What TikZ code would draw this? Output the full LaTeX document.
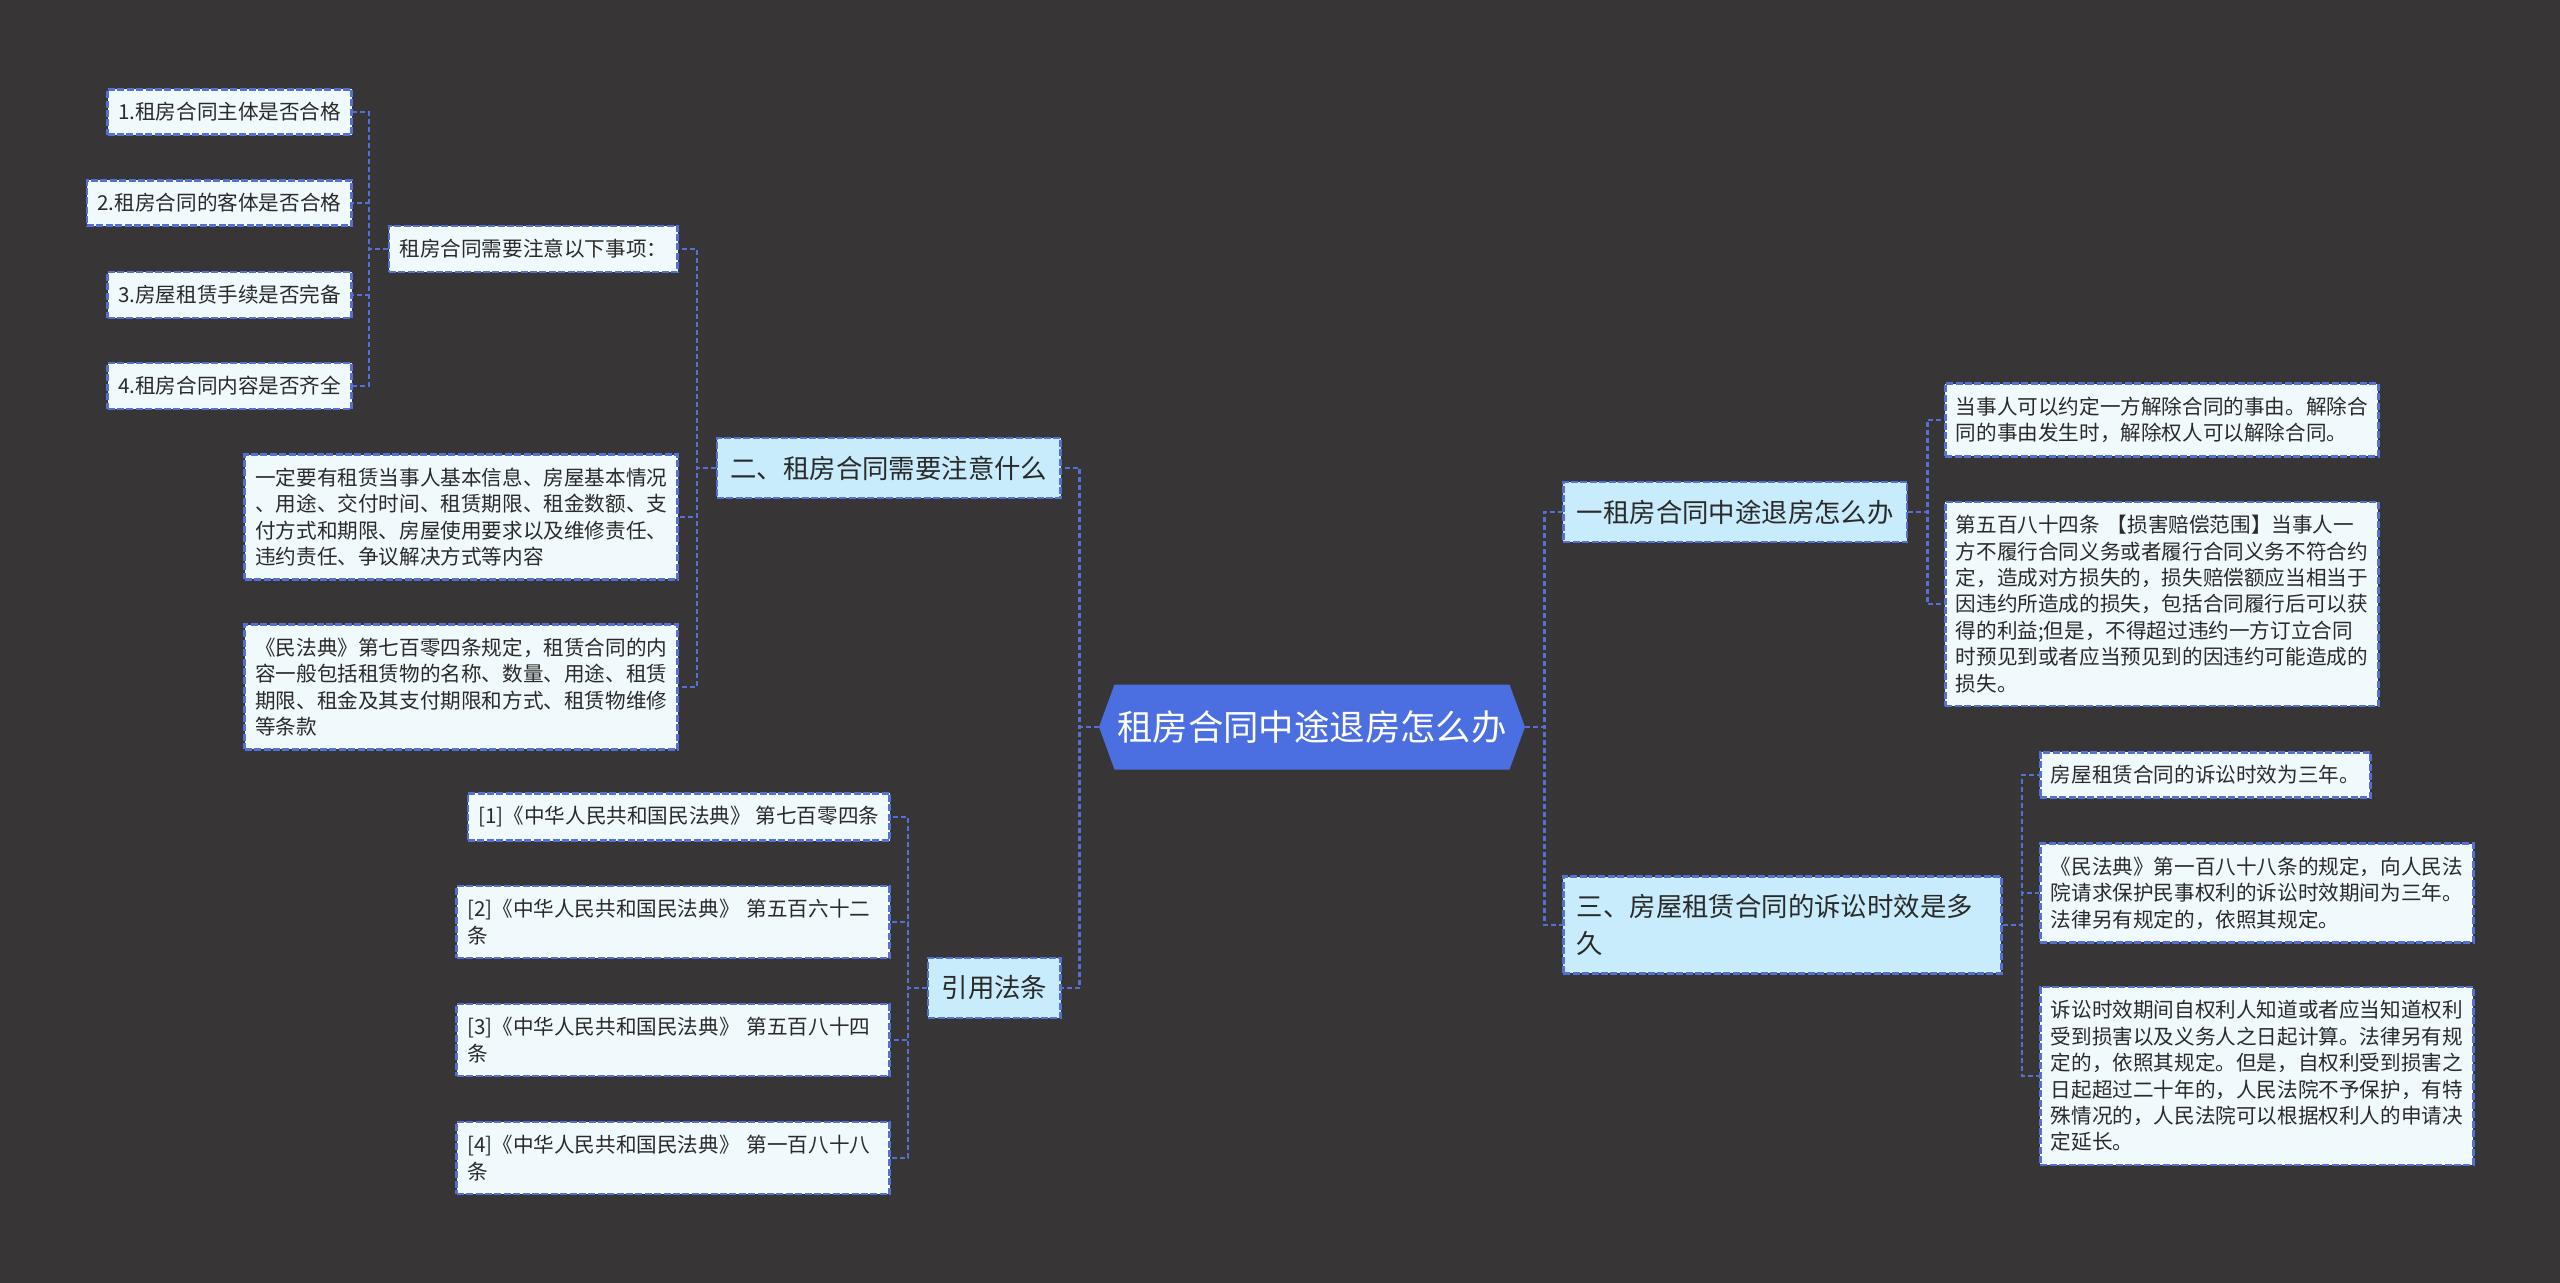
\documentclass[tikz,border=0pt]{standalone}
\usepackage{fontspec}
\setmainfont{Noto Sans CJK SC}
\usetikzlibrary{shapes.symbols}

\definecolor{bgdark}{HTML}{373536}
\definecolor{rootblue}{HTML}{4B6FE0}
\definecolor{linkblue}{HTML}{5470D4}
\definecolor{topicfill}{HTML}{C8ECFC}
\definecolor{leaffill}{HTML}{F0FAFD}
\definecolor{textdark}{HTML}{2A2A2A}

\tikzset{
  link/.style={draw=linkblue, line width=1.1pt, dash pattern=on 2.5pt off 1.5pt},
  box/.style={draw=linkblue, line width=1.3pt, dash pattern=on 3.5pt off 1.2pt, text=textdark, align=left},
  leaf/.style={box, fill=leaffill, font=\fontsize{10.3}{13.2}\selectfont, inner xsep=5.25pt, inner ysep=6.6pt},
  leafwide/.style={leaf, text width=206pt},
  topic/.style={box, fill=topicfill, font=\fontsize{13.2}{18.3}\selectfont, inner xsep=6.75pt, inner ysep=8.9pt},
  root/.style={signal, signal to=west and east, signal pointer angle=140, fill=rootblue, text=white,
    font=\fontsize{17.7}{20}\selectfont, minimum width=213pt, minimum height=42.5pt, inner sep=0pt}
}

\begin{document}
\begin{tikzpicture}[x=0.5pt, y=-0.5pt]
        % Background
        \fill[bgdark] (0,0) rectangle (2560,1283);
        \useasboundingbox (0,0) rectangle (2560,1283);

        % Central topic
        \node[root] (root) at (1312,727) {租房合同中途退房怎么办};

        % Left branch: things to watch for
        \node[topic, anchor=east] (n2) at (1062,468) {二、租房合同需要注意什么};
        \node[leaf, anchor=east] (n2a) at (679,249) {租房合同需要注意以下事项：};
        \node[leafwide, anchor=east] (n2b) at (679,517) {一定要有租赁当事人基本信息、房屋基本情况\\、用途、交付时间、租赁期限、租金数额、支\\付方式和期限、房屋使用要求以及维修责任、\\违约责任、争议解决方式等内容};
        \node[leafwide, anchor=east] (n2c) at (679,687) {《民法典》第七百零四条规定，租赁合同的内\\容一般包括租赁物的名称、数量、用途、租赁\\期限、租金及其支付期限和方式、租赁物维修\\等条款};
        \node[leaf, anchor=east] (s1) at (353,112) {1.租房合同主体是否合格};
        \node[leaf, anchor=east] (s2) at (353,203) {2.租房合同的客体是否合格};
        \node[leaf, anchor=east] (s3) at (353,295) {3.房屋租赁手续是否完备};
        \node[leaf, anchor=east] (s4) at (353,386) {4.租房合同内容是否齐全};

        % Left branch: cited articles
        \node[topic, anchor=east] (ref) at (1062,988) {引用法条};
        \node[leaf, anchor=east] (r1) at (891,817) {[1]《中华人民共和国民法典》 第七百零四条};
        \node[leafwide, anchor=east] (r2) at (891,922) {[2]《中华人民共和国民法典》 第五百六十二\\条};
        \node[leafwide, anchor=east] (r3) at (891,1040) {[3]《中华人民共和国民法典》 第五百八十四\\条};
        \node[leafwide, anchor=east] (r4) at (891,1158) {[4]《中华人民共和国民法典》 第一百八十八\\条};

        % Right branch: moving out early
        \node[topic, anchor=west] (n1) at (1562,512) {一租房合同中途退房怎么办};
        \node[leafwide, anchor=west] (n1a) at (1944,420) {当事人可以约定一方解除合同的事由。解除合\\同的事由发生时，解除权人可以解除合同。};
        \node[leafwide, anchor=west] (n1b) at (1944,604) {第五百八十四条 【损害赔偿范围】当事人一\\方不履行合同义务或者履行合同义务不符合约\\定，造成对方损失的，损失赔偿额应当相当于\\因违约所造成的损失，包括合同履行后可以获\\得的利益;但是，不得超过违约一方订立合同\\时预见到或者应当预见到的因违约可能造成的\\损失。};

        % Right branch: limitation period
        \node[topic, anchor=west, text width=205.5pt] (n3) at (1562,925) {三、房屋租赁合同的诉讼时效是多\\久};
        \node[leaf, anchor=west] (n3a) at (2039,775) {房屋租赁合同的诉讼时效为三年。};
        \node[leafwide, anchor=west] (n3b) at (2039,893) {《民法典》第一百八十八条的规定，向人民法\\院请求保护民事权利的诉讼时效期间为三年。\\法律另有规定的，依照其规定。};
        \node[leafwide, anchor=west] (n3c) at (2039,1076) {诉讼时效期间自权利人知道或者应当知道权利\\受到损害以及义务人之日起计算。法律另有规\\定的，依照其规定。但是，自权利受到损害之\\日起超过二十年的，人民法院不予保护，有特\\殊情况的，人民法院可以根据权利人的申请决\\定延长。};

        % Connectors
        \foreach \p/\c in {root/n2, root/ref, n2/n2a, n2/n2b, n2/n2c, n2a/s1, n2a/s2, n2a/s3, n2a/s4, ref/r1, ref/r2, ref/r3, ref/r4}
            \draw[link] (\p.west) -- ++(-9.5pt,0) |- (\c.east);
        \foreach \p/\c in {root/n1, root/n3, n1/n1a, n1/n1b, n3/n3a, n3/n3b, n3/n3c}
            \draw[link] (\p.east) -- ++(9.5pt,0) |- (\c.west);
\end{tikzpicture}
\end{document}
